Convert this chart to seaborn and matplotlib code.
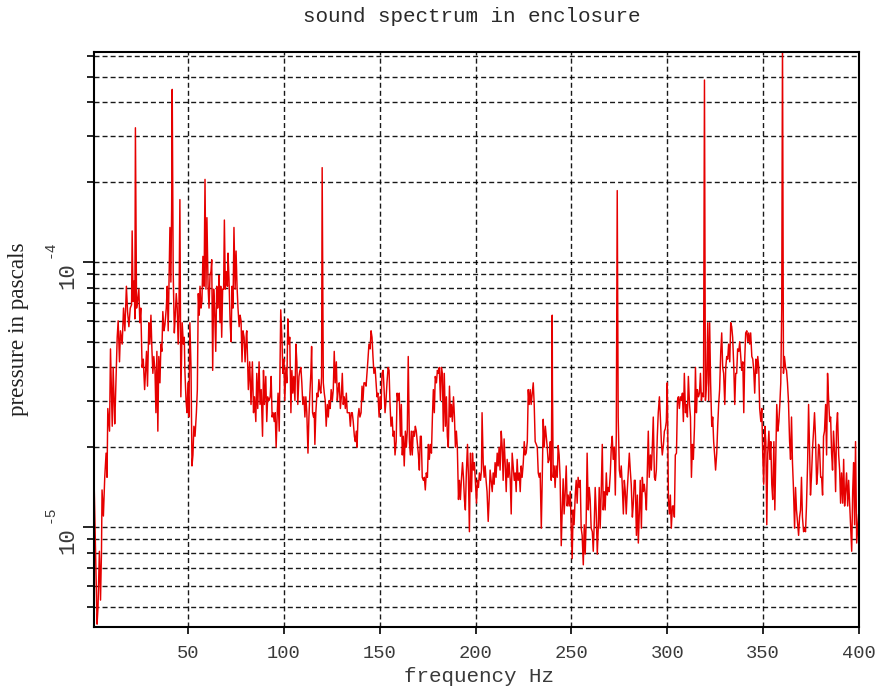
import numpy as np
import pandas as pd
import matplotlib
matplotlib.use("Agg")
import matplotlib.pyplot as plt
import matplotlib.transforms as mtransforms
import seaborn as sns
from matplotlib.ticker import FixedLocator, LogLocator, NullFormatter

# Spectrum readings: (frequency in Hz, pressure in micro-pascals), split by band
band_0_80 = [
    (1.0, 15.4), (1.7, 8.7), (2.6, 4.3), (3.1, 5.0), (3.8, 8.1), (4.4, 5.3), (4.9, 8.1), (5.2, 13.8),
    (5.9, 11), (6.6, 15.4), (7.3, 19), (7.8, 15.4), (8.2, 28), (9.1, 23), (9.6, 47), (10.5, 24),
    (11.0, 40), (11.8, 24.5), (12.2, 30.5), (13.1, 52), (13.6, 60), (14.3, 42), (14.8, 55), (15.7, 49),
    (16.4, 67), (17.1, 55), (17.9, 81), (18.5, 65), (19.2, 57), (19.9, 67), (20.6, 69), (20.9, 131),
    (21.4, 71), (22.0, 85), (22.3, 61), (22.6, 321), (23.2, 67), (23.7, 71), (24.4, 79), (24.9, 59),
    (25.4, 67), (26.1, 40), (26.7, 43), (27.4, 33), (27.9, 39), (28.4, 46), (28.9, 34), (29.6, 59),
    (30.1, 49), (30.7, 63), (31.2, 47), (31.7, 38), (32.2, 44), (32.8, 39), (33.3, 27), (33.8, 46),
    (34.3, 23), (34.8, 44), (35.4, 35), (35.9, 49), (36.4, 46), (36.9, 65), (37.5, 55), (38.0, 58),
    (38.7, 67), (39.2, 81), (39.7, 55), (40.1, 84), (40.6, 135), (41.1, 84), (41.5, 159), (41.8, 448),
    (42.3, 92), (42.9, 54), (43.4, 63), (43.9, 76), (44.4, 67), (44.9, 49), (45.3, 63), (45.8, 172),
    (46.3, 31), (46.7, 46), (47.0, 59), (47.6, 49), (48.1, 52), (48.4, 39), (49.0, 30), (49.5, 27),
    (50.0, 35), (50.5, 26), (51.0, 59), (51.6, 40), (52.1, 17), (52.6, 18.7), (53.1, 24), (53.7, 22),
    (54.4, 27), (54.9, 33), (55.4, 76), (55.9, 63), (56.3, 81), (56.8, 67), (57.3, 71), (57.8, 105),
    (58.4, 81), (58.9, 205), (59.4, 79), (59.9, 147), (60.5, 81), (61.0, 67), (61.5, 89), (62.0, 92),
    (62.4, 102), (62.9, 39), (63.4, 79), (63.9, 67), (64.5, 46), (65.0, 81), (65.5, 67), (65.9, 76),
    (66.2, 89), (66.7, 59), (67.1, 81), (67.6, 52), (68.1, 79), (68.6, 79), (69.0, 144), (69.5, 79),
    (70.0, 92), (70.6, 81), (70.9, 108), (71.4, 87), (72.0, 59), (72.5, 50), (73.0, 81), (73.5, 67),
    (74.0, 135), (74.6, 79), (75.1, 110), (75.6, 81), (76.1, 67), (76.7, 57), (77.2, 63), (77.7, 60),
    (78.2, 42), (78.7, 55), (79.3, 52), (79.8, 42), (80.5, 54),
]

band_80_160 = [
    (80.7, 55), (81.5, 33), (82.2, 42), (82.9, 29), (83.6, 42), (84.2, 27), (84.7, 31), (85.4, 25),
    (85.9, 38), (86.4, 28), (87.1, 42), (87.6, 29), (88.2, 33), (88.9, 22), (89.4, 39), (89.9, 29),
    (90.6, 37), (91.1, 25), (91.6, 31), (92.3, 30), (92.9, 31), (93.4, 37), (93.9, 26), (94.4, 27),
    (95.0, 25), (95.5, 27), (96.0, 20), (96.5, 26), (97.0, 32), (97.6, 23), (97.9, 35), (98.4, 66),
    (99.0, 52), (99.5, 38), (100.0, 43), (100.5, 30), (101.1, 40), (101.6, 35), (102.1, 61), (102.6, 49),
    (103.1, 52), (103.7, 27), (104.2, 39), (104.7, 32), (105.2, 37), (105.8, 30), (106.3, 49), (106.8, 42),
    (107.3, 29), (107.9, 37), (108.4, 39), (108.9, 40), (109.4, 35), (109.9, 29), (110.5, 31), (111.0, 26),
    (111.5, 31), (112.0, 27), (112.6, 19), (113.1, 26), (113.6, 32), (114.1, 38), (114.5, 48), (115.0, 27),
    (115.5, 26), (115.9, 27), (116.2, 20.5), (116.7, 27), (117.3, 32), (117.8, 31), (118.3, 36), (118.8, 33),
    (119.3, 32), (119.7, 37), (120.0, 227), (120.6, 35), (121.1, 32), (121.6, 30), (122.1, 24), (122.7, 29),
    (123.2, 26), (123.7, 30), (124.2, 28), (124.7, 33), (125.3, 30), (125.8, 33), (126.3, 46), (126.8, 35),
    (127.4, 42), (127.9, 30), (128.4, 33), (128.9, 35), (129.5, 28), (130.0, 31), (130.5, 38), (131.0, 29),
    (131.5, 31), (132.1, 28), (132.6, 32), (133.1, 27), (133.6, 27), (134.2, 27), (134.7, 24), (135.2, 27),
    (135.7, 27), (136.2, 25), (136.8, 22), (137.3, 21), (137.8, 23), (138.2, 20), (138.7, 26), (139.2, 28),
    (139.7, 26), (140.3, 27), (140.8, 34), (141.3, 30), (141.8, 35), (142.3, 35), (142.9, 34), (143.4, 38),
    (143.9, 43), (144.4, 49), (145.0, 47), (145.5, 55), (146.0, 52), (146.5, 44), (147.0, 38), (147.6, 40),
    (148.1, 35), (148.6, 31), (149.1, 32), (149.7, 26), (150.2, 31), (150.7, 28), (151.2, 38), (151.8, 39),
    (152.3, 33), (152.8, 27), (153.3, 30), (153.8, 35), (154.4, 40), (154.9, 39), (155.4, 29), (155.9, 24),
    (156.5, 26), (157.0, 22), (157.5, 23), (158.0, 18.7), (158.6, 21), (159.1, 32), (159.6, 30),
]

band_160_240 = [
    (160.2, 32), (160.8, 22), (161.3, 29), (161.8, 18.7), (162.3, 22), (162.8, 17), (163.4, 23), (163.9, 20),
    (164.4, 23), (164.9, 44), (165.5, 21), (166.0, 18.7), (166.5, 23), (167.0, 18.7), (167.5, 23), (168.1, 22),
    (168.6, 24), (169.1, 23), (169.6, 21), (170.2, 18.7), (170.7, 16.4), (171.2, 22), (171.7, 22), (172.2, 15.4),
    (172.8, 15), (173.3, 15.4), (173.8, 13.8), (174.3, 16), (174.9, 15.4), (175.4, 20.5), (175.9, 18), (176.4, 20.5),
    (177.0, 19), (177.5, 26), (178.0, 33), (178.5, 27), (179.0, 37), (179.6, 35), (180.1, 39), (180.6, 38),
    (181.1, 40), (181.7, 30), (182.2, 40), (182.7, 38), (183.2, 23), (183.7, 38), (184.3, 24), (184.8, 31),
    (185.3, 22), (185.8, 20), (186.4, 34), (186.9, 26), (187.4, 29), (187.9, 25), (188.5, 31), (189.0, 26),
    (189.5, 20), (190.0, 23), (190.5, 20), (191.1, 12.7), (191.6, 15), (192.1, 12.7), (192.6, 15), (193.2, 17.5),
    (193.7, 15.4), (194.2, 12.7), (194.7, 11.6), (195.2, 16), (195.8, 20.5), (196.3, 15.4), (196.8, 9.6), (197.3, 19),
    (197.9, 13.6), (198.4, 19), (198.9, 16.4), (199.4, 17.5), (199.9, 15), (200.5, 12.3), (201.0, 15), (201.5, 14.1),
    (202.0, 16), (202.6, 15), (203.1, 16.4), (203.4, 27), (204.0, 17.5), (204.5, 15.4), (205.0, 17), (205.5, 15),
    (206.0, 13.6), (206.6, 10.5), (207.1, 12.7), (207.6, 16.4), (208.1, 15), (208.7, 13.6), (209.2, 16), (209.7, 14.5),
    (210.2, 17.5), (210.7, 15.4), (211.3, 19), (211.8, 17), (212.3, 20), (212.8, 16.4), (213.4, 23), (213.9, 20),
    (214.4, 15), (214.9, 21.5), (215.5, 17), (216.0, 13.6), (216.5, 18), (217.0, 15.4), (217.5, 17.5), (218.1, 15),
    (218.6, 11.2), (219.1, 19), (219.6, 17), (220.2, 15), (220.7, 16), (221.2, 13.6), (221.7, 18), (222.2, 15),
    (222.8, 16), (223.3, 13.6), (223.8, 17), (224.3, 15.4), (224.9, 17.5), (225.4, 21), (225.9, 18.7), (226.4, 19),
    (227.0, 21), (227.5, 33), (228.0, 29), (228.5, 33), (229.0, 29), (229.6, 32), (230.1, 35), (230.6, 29),
    (231.1, 21), (231.7, 20.5), (232.2, 20), (232.7, 16), (233.2, 15.4), (233.7, 16), (234.3, 9.9), (234.8, 15.4),
    (235.3, 25.5), (235.8, 20), (236.4, 24), (236.9, 22), (237.4, 20), (237.9, 17.5), (238.5, 18), (239.0, 21),
    (239.5, 15), (240.0, 63),
]

band_240_320 = [
    (240.1, 35), (240.5, 15.4), (241.0, 17), (241.5, 14.1), (242.0, 17), (242.6, 15.4), (243.1, 20.3), (243.6, 18.7),
    (244.1, 15.4), (244.7, 8.5), (245.2, 11.6), (245.7, 15.2), (246.2, 11.2), (246.7, 13.2), (247.3, 17), (247.8, 12),
    (248.3, 13.2), (248.8, 12), (249.4, 13.6), (249.9, 9.9), (250.4, 7.6), (250.9, 11.6), (251.4, 10.2), (252.0, 13.2),
    (252.5, 15), (253.0, 12.3), (253.5, 15.4), (254.1, 14.1), (254.6, 15), (255.1, 9.9), (255.6, 9.3), (256.2, 7.2),
    (256.7, 10.2), (257.2, 7.9), (257.7, 10.5), (258.2, 19), (258.8, 11.6), (259.3, 14.1), (259.8, 12.7), (260.3, 9.9),
    (260.9, 9.6), (261.4, 8.1), (261.9, 10.2), (262.4, 14.1), (262.9, 11.6), (263.5, 7.9), (264.0, 9.9), (264.5, 14.1),
    (265.0, 9.9), (265.6, 14.1), (266.1, 20.5), (266.6, 11.6), (267.1, 13.6), (267.6, 11.6), (268.2, 16), (268.7, 13.2),
    (269.2, 14.1), (269.7, 13.6), (270.3, 16), (270.8, 20), (271.3, 22), (271.8, 18), (272.4, 20), (272.9, 13.2),
    (273.4, 22), (273.9, 186), (274.4, 26), (275.0, 16.4), (275.5, 15.4), (276.0, 17), (276.5, 14.5), (277.1, 11.2),
    (277.6, 15), (278.1, 13.6), (278.6, 11.2), (279.1, 13.6), (279.7, 16.4), (280.2, 19), (280.7, 16.4), (281.2, 14.5),
    (281.8, 10.9), (282.3, 12.3), (282.8, 15), (283.3, 15), (283.9, 9.3), (284.4, 13.2), (284.9, 8.7), (285.4, 11.2),
    (285.9, 15), (286.5, 9.9), (287.0, 15.4), (287.5, 13.6), (288.0, 14.5), (288.6, 13.2), (289.1, 11.6), (289.6, 16.4),
    (290.1, 23), (290.6, 15.4), (291.2, 18.7), (291.7, 16.4), (292.2, 20), (292.7, 26), (293.3, 15.4), (293.8, 15),
    (294.3, 16.4), (294.8, 22), (295.3, 27), (295.9, 31), (296.4, 26), (296.9, 21), (297.4, 18.7), (298.0, 20.5),
    (298.5, 23), (299.0, 23.5), (299.5, 25), (300.0, 35), (300.6, 12.7), (301.1, 11.2), (301.6, 13.2), (302.1, 9.9),
    (302.7, 12), (303.2, 12), (303.7, 10.9), (304.2, 18.7), (304.8, 19), (305.3, 30), (305.8, 31), (306.3, 28),
    (306.8, 31), (307.4, 30), (307.9, 32), (308.4, 25), (308.9, 38), (309.5, 27), (310.0, 29), (310.5, 26),
    (311.0, 37), (311.6, 29), (312.1, 26), (312.6, 15.4), (313.1, 20.5), (313.6, 18), (314.2, 24), (314.7, 40),
    (315.2, 27), (315.7, 33), (316.3, 31), (316.8, 32), (317.3, 38), (317.8, 30), (318.3, 32), (318.9, 31),
    (319.4, 486), (319.9, 30),
]

band_320_400 = [
    (320.5, 35), (321.1, 59), (321.6, 30), (322.1, 59), (322.6, 35), (323.2, 24), (323.7, 26), (324.2, 21),
    (324.7, 18.7), (325.2, 16.4), (325.8, 19), (326.3, 24), (326.8, 29), (327.3, 33), (327.9, 46), (328.4, 54),
    (328.9, 40), (329.4, 38), (330.0, 29), (330.5, 40), (331.0, 44), (331.5, 43), (332.0, 49), (332.6, 42),
    (333.1, 59), (333.6, 57), (334.1, 52), (334.7, 40), (335.2, 29), (335.7, 38), (336.2, 38), (336.7, 47),
    (337.3, 46), (337.8, 50), (338.3, 44), (338.8, 39), (339.4, 42), (339.9, 27), (340.4, 43), (340.9, 54),
    (341.5, 55), (342.0, 50), (342.5, 54), (343.0, 49), (343.5, 54), (344.1, 44), (344.6, 43), (345.1, 39),
    (345.6, 32), (346.2, 43), (346.7, 38), (347.2, 44), (347.7, 40), (348.2, 28), (348.8, 25), (349.3, 28),
    (349.8, 18.7), (350.3, 14.5), (350.9, 24), (351.4, 21), (351.9, 10.2), (352.4, 19), (353.0, 23), (353.5, 18),
    (354.0, 21), (354.5, 14.5), (355.0, 12.7), (355.6, 21), (356.1, 11.6), (356.6, 18.7), (357.1, 29), (357.7, 23),
    (358.2, 25), (358.7, 29), (359.2, 35), (359.7, 67), (360.1, 700), (360.6, 38), (361.1, 44), (361.7, 40),
    (362.2, 39), (362.7, 35), (363.2, 30), (363.8, 21), (364.3, 18), (364.8, 26), (365.3, 17.5), (365.8, 14.1),
    (366.4, 9.9), (366.9, 14.1), (367.4, 11.6), (367.9, 10.5), (368.5, 9.3), (369.0, 10.9), (369.5, 11.6), (370.0, 15.4),
    (370.5, 10.9), (371.1, 9.6), (371.6, 9.9), (372.1, 9.6), (372.6, 12), (373.2, 17.5), (373.7, 29), (374.2, 20),
    (374.7, 13.2), (375.2, 15.4), (375.8, 20), (376.3, 23), (376.8, 27), (377.3, 22), (377.9, 14.5), (378.4, 16),
    (378.9, 20.5), (379.4, 20), (380.0, 15.4), (380.5, 15.4), (381.0, 13.2), (381.5, 22), (382.0, 23), (382.6, 29),
    (383.1, 18.7), (383.6, 38), (384.1, 31), (384.7, 25), (385.2, 26), (385.7, 19), (386.2, 16.4), (386.7, 23),
    (387.3, 19), (387.8, 13.6), (388.3, 24), (388.8, 27), (389.4, 18.7), (389.9, 16.4), (390.4, 12.3), (390.9, 16),
    (391.5, 12.3), (392.0, 18), (392.5, 12), (393.0, 13.6), (393.5, 16), (394.1, 12), (394.6, 15), (395.1, 12.3),
    (395.6, 9.9), (396.2, 8.1), (396.7, 13.6), (397.2, 17.5), (397.7, 10.2), (398.2, 21), (398.8, 8.7), (399.3, 9.9),
    (399.8, 11.2), (400.0, 6.9),
]

x_ticks = [50, 100, 150, 200, 250, 300, 350, 400]
y_ticks = [1e-5, 1e-4]
y_tick_mantissa = ["10", "10"]
y_tick_exponents = ["-5", "-4"]

readings = band_0_80 + band_80_160 + band_160_240 + band_240_320 + band_320_400
df = pd.DataFrame(readings, columns=["freq", "upa"])
df["pressure"] = df["upa"] * 1e-6

sns.set_style("ticks")
plt.rcParams["font.family"] = ["Liberation Mono", "DejaVu Sans"]

W, H = 882, 696
fig = plt.figure(figsize=(W / 100, H / 100), dpi=100)
ax = fig.add_axes([94 / W, 1 - 627 / H, 765 / W, 575 / H])

sns.lineplot(data=df, x="freq", y="pressure", ax=ax, color="#e60000",
             linewidth=1.05, estimator=None, sort=False, legend=False)

ax.set_yscale("log")
ax.set_xlim(1, 400)
ax.set_ylim(4.195e-6, 6.2e-4)

ax.xaxis.set_major_locator(FixedLocator(x_ticks))
ax.set_xticklabels([str(t) for t in x_ticks])
ax.yaxis.set_major_locator(FixedLocator(y_ticks))
ax.set_yticklabels(y_tick_mantissa)
ax.yaxis.set_minor_locator(LogLocator(base=10, subs=np.arange(2, 10)))
ax.yaxis.set_minor_formatter(NullFormatter())

grid_style = dict(color="black", linestyle=(0, (3.6, 2.2)), linewidth=1.0, alpha=0.9)
ax.grid(True, which="major", axis="x", **grid_style)
ax.grid(True, which="both", axis="y", **grid_style)

ax.tick_params(axis="x", which="major", direction="out", length=5, width=1.2,
               color="black", labelsize=13.5, labelcolor="#3a3a3a", pad=8)
ax.tick_params(axis="y", which="major", direction="out", length=8, width=1.2,
               color="black", labelsize=16, labelcolor="#3a3a3a", pad=3)
ax.tick_params(axis="y", which="minor", direction="out", length=5, width=1.2, color="black")
for lab in ax.get_yticklabels():
    lab.set_rotation(90)
    lab.set_va("top")
    lab.set_ha("right")

# exponents written above and to the left of each "10" tick label
exp_trans = mtransforms.offset_copy(
    mtransforms.blended_transform_factory(ax.transAxes, ax.transData),
    fig=fig, x=0, y=13, units="dots")
for val, ex in zip(y_ticks, y_tick_exponents):
    ax.text((50 - 94) / 765, val, ex, transform=exp_trans, rotation=90,
            ha="center", va="center", fontsize=10.5, color="#3a3a3a", clip_on=False)

for side in ["left", "right", "top", "bottom"]:
    ax.spines[side].set_visible(True)
    ax.spines[side].set_color("black")
    ax.spines[side].set_linewidth(1.5)

ax.set_xlabel("")
ax.set_ylabel("")
fig.text(471.5 / W, 1 - 16 / H, "sound spectrum in enclosure", ha="center", va="center",
         fontsize=15, color="#2a2a2a")
fig.text(479 / W, 1 - 677 / H, "frequency Hz", ha="center", va="center",
         fontsize=15, color="#3a3a3a")
fig.text(19 / W, 1 - 329 / H, "pressure in pascals", ha="center", va="center", rotation=90,
         fontsize=16.7, color="#222222", family=["Liberation Serif", "DejaVu Serif"])

fig.savefig("out.png", dpi=100, facecolor="white")
